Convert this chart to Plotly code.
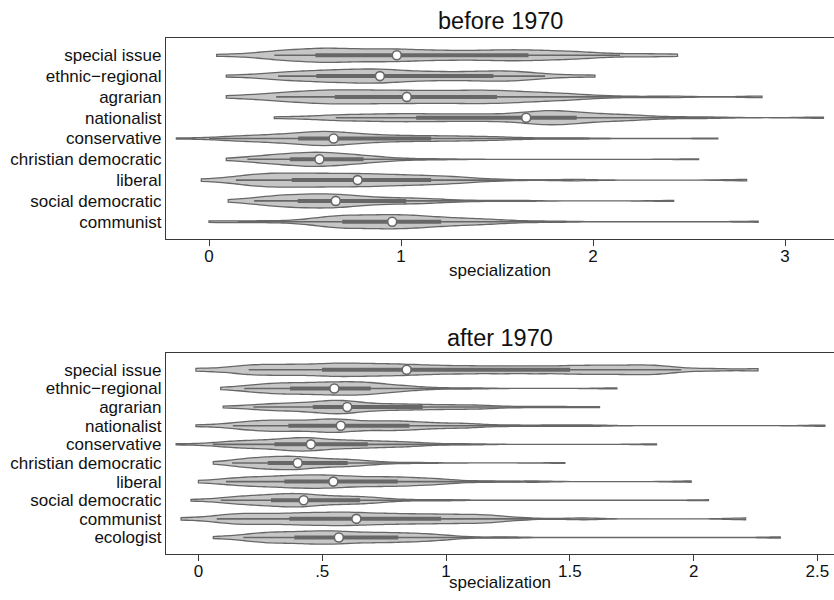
import plotly.graph_objects as go

# ---------------- data ----------------
cats_before = ["special issue", "ethnic\u2212regional", "agrarian", "nationalist",
               "conservative", "christian democratic", "liberal",
               "social democratic", "communist"]
cats_after = cats_before + ["ecologist"]

# densely populated part of each distribution (each value stands for CORE_WEIGHT observations)
before_core = [
    [0.34, 0.45, 0.55, 0.62, 0.70, 0.80, 0.90, 0.98, 1.08, 1.20, 1.32, 1.45, 1.56, 1.66, 1.78, 1.92],
    [0.36, 0.45, 0.56, 0.63, 0.70, 0.78, 0.85, 0.89, 0.97, 1.06, 1.16, 1.27, 1.38, 1.48, 1.56, 1.65],
    [0.35, 0.48, 0.58, 0.66, 0.75, 0.84, 0.93, 1.03, 1.12, 1.22, 1.32, 1.41, 1.50, 1.60, 1.72, 1.88],
    [0.66, 0.82, 0.96, 1.08, 1.22, 1.36, 1.50, 1.65, 1.72, 1.78, 1.85, 1.92, 2.05, 2.20],
    [0.15, 0.28, 0.38, 0.46, 0.52, 0.58, 0.62, 0.65, 0.72, 0.80, 0.90, 1.02, 1.16, 1.30, 1.48],
    [0.26, 0.33, 0.40, 0.45, 0.50, 0.54, 0.58, 0.61, 0.66, 0.72, 0.79, 0.87],
    [0.20, 0.28, 0.36, 0.43, 0.52, 0.60, 0.68, 0.77, 0.85, 0.94, 1.05, 1.16, 1.30],
    [0.28, 0.35, 0.41, 0.46, 0.52, 0.58, 0.63, 0.66, 0.72, 0.80, 0.90, 1.03, 1.15],
    [0.58, 0.65, 0.70, 0.76, 0.83, 0.90, 0.95, 1.00, 1.06, 1.13, 1.21, 1.32, 1.45],
]
# sparse tail observations (single weight)
before_sparse = [
    [0.04, 0.22, 2.05, 2.18, 2.30, 2.44],
    [0.09, 0.22, 1.75, 1.88, 2.01],
    [0.09, 0.22, 2.10, 2.40, 2.88],
    [0.34, 0.50, 2.40, 2.60, 3.20],
    [-0.17, 0.05, 1.70, 1.95, 2.65],
    [0.09, 0.18, 1.02, 1.20, 2.55],
    [-0.04, 0.10, 1.50, 1.90, 2.80],
    [0.10, 0.20, 1.35, 1.60, 2.42],
    [0.00, 0.15, 0.30, 0.45, 1.60, 1.80, 2.86],
]
before_lav = [0.34, 0.36, 0.35, 0.66, 0.00, 0.20, 0.14, 0.235, 0.15]
before_q1 = [0.554, 0.559, 0.655, 1.079, 0.464, 0.421, 0.431, 0.462, 0.694]
before_median = [0.978, 0.890, 1.030, 1.652, 0.649, 0.575, 0.774, 0.660, 0.954]
before_q3 = [1.664, 1.481, 1.50, 1.915, 1.157, 0.805, 1.157, 1.027, 1.209]
before_uav = [2.14, 1.75, 2.40, 2.60, 1.95, 1.20, 1.90, 1.60, 1.75]

after_core = [
    [0.20, 0.30, 0.40, 0.50, 0.58, 0.66, 0.75, 0.84, 0.95, 1.08, 1.22, 1.36, 1.50, 1.62, 1.74, 1.85],
    [0.22, 0.28, 0.33, 0.37, 0.42, 0.47, 0.51, 0.55, 0.59, 0.63, 0.67, 0.70, 0.76, 0.84],
    [0.26, 0.33, 0.40, 0.46, 0.51, 0.55, 0.58, 0.60, 0.66, 0.74, 0.82, 0.91, 1.02, 1.14],
    [0.18, 0.25, 0.31, 0.36, 0.43, 0.50, 0.54, 0.575, 0.64, 0.72, 0.79, 0.85, 0.95, 1.08],
    [0.12, 0.19, 0.25, 0.31, 0.36, 0.40, 0.43, 0.45, 0.50, 0.56, 0.62, 0.68, 0.76, 0.85],
    [0.17, 0.21, 0.25, 0.28, 0.32, 0.36, 0.38, 0.40, 0.44, 0.49, 0.55, 0.60, 0.66],
    [0.15, 0.22, 0.29, 0.35, 0.40, 0.45, 0.50, 0.545, 0.60, 0.67, 0.74, 0.805, 0.88, 0.98],
    [0.13, 0.19, 0.24, 0.29, 0.33, 0.37, 0.40, 0.425, 0.47, 0.53, 0.59, 0.65, 0.72],
    [0.12, 0.20, 0.28, 0.37, 0.44, 0.51, 0.58, 0.64, 0.72, 0.80, 0.89, 0.98, 1.08, 1.18],
    [0.22, 0.28, 0.33, 0.39, 0.44, 0.49, 0.53, 0.57, 0.63, 0.69, 0.75, 0.81, 0.88, 0.96],
]
after_sparse = [
    [-0.01, 0.10, 1.95, 2.08, 2.26],
    [0.09, 0.16, 0.95, 1.10, 1.69],
    [0.10, 0.18, 1.30, 1.45, 1.62],
    [-0.01, 0.10, 1.25, 1.42, 1.58, 2.53],
    [-0.09, 0.04, 0.95, 1.10, 1.85],
    [0.06, 0.12, 0.75, 0.90, 1.48],
    [0.00, 0.08, 1.15, 1.35, 1.99],
    [-0.03, 0.06, 0.85, 1.00, 2.06],
    [-0.07, 0.04, 1.30, 1.55, 2.21],
    [0.06, 0.15, 1.05, 1.25, 2.35],
]
after_lav = [0.203, 0.185, 0.222, 0.139, 0.058, 0.136, 0.111, 0.09, 0.074, 0.181]
after_q1 = [0.499, 0.370, 0.462, 0.363, 0.307, 0.280, 0.347, 0.293, 0.367, 0.387]
after_median = [0.841, 0.549, 0.601, 0.575, 0.454, 0.401, 0.545, 0.425, 0.638, 0.567]
after_q3 = [1.501, 0.696, 0.906, 0.852, 0.684, 0.603, 0.805, 0.653, 0.980, 0.807]
after_uav = [1.95, 1.00, 1.50, 1.50, 1.10, 0.95, 1.30, 1.10, 1.50, 1.25]

CORE_WEIGHT = 3

before_ticks = [0, 1, 2, 3]
before_ticktext = ["0", "1", "2", "3"]
after_ticks = [0, 0.5, 1, 1.5, 2, 2.5]
after_ticktext = ["0", ".5", "1", "1.5", "2", "2.5"]

# ---------------- styling ----------------
FILL = "#c6c6c6"
EDGE = "#676767"
AXC = "#3a3a3a"
FONT = "Liberation Sans, Arial, Helvetica, sans-serif"
ML, MR, MT, MB = 166, 0, 38, 46
W, H = 834, 600

fig = go.Figure()


def add_panel(cats, core, sparse, lav, q1, med, q3, uav, xa, ya, bw, vwidth):
    for c, cv, sv in zip(cats, core, sparse):
        s = [v for v in cv for _ in range(CORE_WEIGHT)] + list(sv)
        fig.add_trace(go.Violin(
            x=s, y=[c] * len(s), orientation="h", side="both",
            width=vwidth, points=False, box_visible=False, meanline_visible=False,
            spanmode="hard", bandwidth=bw, fillcolor=FILL,
            line=dict(color=EDGE, width=1.3), xaxis=xa, yaxis=ya,
            hoverinfo="skip", showlegend=False))
    wx, wy, bx, by = [], [], [], []
    for c, a, b, m, n in zip(cats, lav, uav, q1, q3):
        wx += [a, b, None]
        wy += [c, c, None]
        bx += [m, n, None]
        by += [c, c, None]
    fig.add_trace(go.Scatter(x=wx, y=wy, mode="lines", line=dict(color=EDGE, width=1.6),
                             xaxis=xa, yaxis=ya, hoverinfo="skip", showlegend=False))
    fig.add_trace(go.Scatter(x=bx, y=by, mode="lines", line=dict(color=EDGE, width=4),
                             xaxis=xa, yaxis=ya, hoverinfo="skip", showlegend=False))
    fig.add_trace(go.Scatter(x=med, y=cats, mode="markers",
                             marker=dict(color="white", size=9, line=dict(color=EDGE, width=1.6)),
                             xaxis=xa, yaxis=ya, hoverinfo="skip", showlegend=False))


add_panel(cats_before, before_core, before_sparse, before_lav, before_q1, before_median,
          before_q3, before_uav, "x", "y", 0.11, 0.68)
add_panel(cats_after, after_core, after_sparse, after_lav, after_q1, after_median,
          after_q3, after_uav, "x2", "y2", 0.07, 0.72)

xcommon = dict(showgrid=False, zeroline=False, showline=True, mirror=True,
               linecolor=AXC, linewidth=1.2, ticks="outside", ticklen=6,
               tickcolor=AXC, tickwidth=1.2, tickfont=dict(size=17, color="#111"),
               ticklabelstandoff=-5, automargin=False, fixedrange=True)
ycommon = dict(showgrid=False, zeroline=False, showline=True, mirror=False,
               linecolor=AXC, linewidth=1.2, ticks="", type="category",
               tickfont=dict(size=17, color="#111"), ticklabelstandoff=0,
               automargin=False, fixedrange=True, tickmode="array")

H_PLOT = H - MT - MB


def ypaper(px):
    return (H - MB - px) / H_PLOT


fig.update_layout(
    template="none",
    width=W, height=H,
    margin=dict(l=ML, r=MR, t=MT, b=MB, pad=0, autoexpand=False),
    paper_bgcolor="white", plot_bgcolor="white",
    font=dict(family=FONT, color="#111"),
    violinmode="overlay", violingap=0, hovermode=False, showlegend=False,
    xaxis=dict(domain=[0, 1], anchor="y", range=[-0.224, 3.255],
               tickvals=before_ticks, ticktext=before_ticktext, **xcommon),
    yaxis=dict(domain=[ypaper(239), 1], anchor="x", categoryorder="array",
               categoryarray=cats_before, tickvals=cats_before,
               range=[8.83, -0.83], **ycommon),
    xaxis2=dict(domain=[0, 1], anchor="y2", range=[-0.131, 2.567],
                tickvals=after_ticks, ticktext=after_ticktext, **xcommon),
    yaxis2=dict(domain=[0, ypaper(353.3)], anchor="x2", categoryorder="array",
                categoryarray=cats_after, tickvals=cats_after,
                range=[9.885, -0.885], **ycommon),
    annotations=[
        dict(text="before 1970", x=0.5, xref="paper", y=ypaper(21), yref="paper",
             yanchor="middle", showarrow=False, font=dict(size=23.5, color="#111")),
        dict(text="after 1970", x=0.5, xref="paper", y=ypaper(338), yref="paper",
             yanchor="middle", showarrow=False, font=dict(size=23.5, color="#111")),
        dict(text="specialization", x=0.5, xref="paper", y=ypaper(270), yref="paper",
             yanchor="middle", showarrow=False, font=dict(size=17, color="#111")),
        dict(text="specialization", x=0.5, xref="paper", y=ypaper(582), yref="paper",
             yanchor="middle", showarrow=False, font=dict(size=17, color="#111")),
    ],
)

fig.write_html("out.html", config={"displayModeBar": False},
               post_script="document.body.style.margin='0';document.body.style.overflow='hidden';")
